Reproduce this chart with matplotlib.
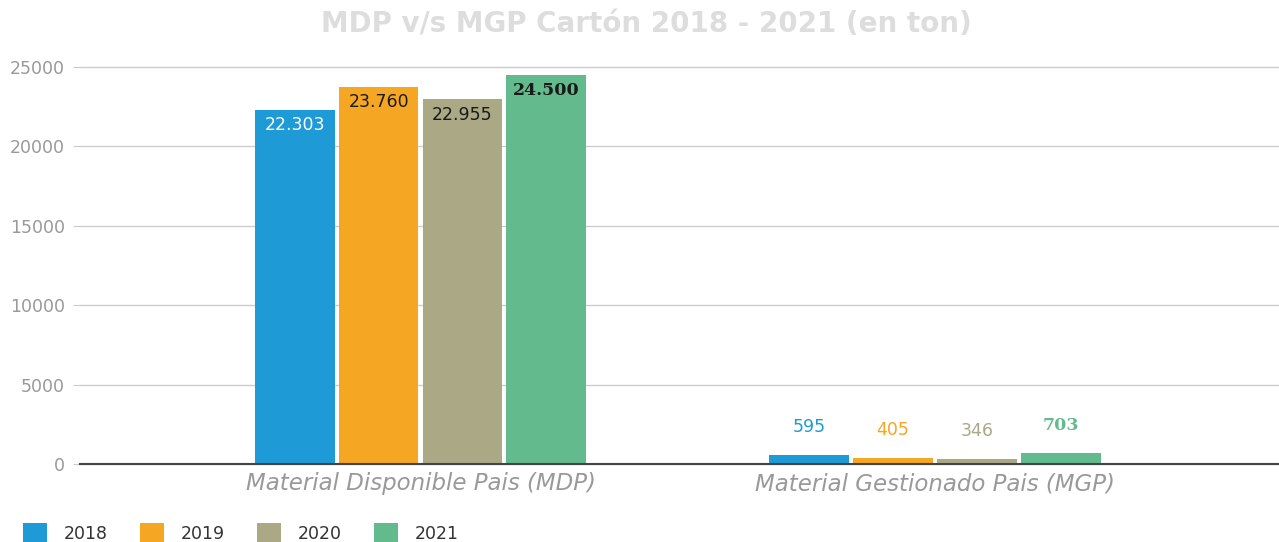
import matplotlib.pyplot as plt
import numpy as np

categorias = ['Material Disponible Pais (MDP)', 'Material Gestionado Pais (MGP)']
anios = ['2018', '2019', '2020', '2021']
valores = {
    '2018': [22303, 595],
    '2019': [23760, 405],
    '2020': [22955, 346],
    '2021': [24500, 703],
}
etiquetas = {
    '2018': ['22.303', '595'],
    '2019': ['23.760', '405'],
    '2020': ['22.955', '346'],
    '2021': ['24.500', '703'],
}
colores = ['#1E9AD6', '#F5A623', '#ABA886', '#63BA8C']
# color del texto dentro de la barra (grupo MDP)
color_dentro = ['white', '#1a1a1a', '#1a1a1a', '#1a1a1a']
familia = ['DejaVu Sans', 'DejaVu Sans', 'DejaVu Sans', 'DejaVu Serif']
peso = ['normal', 'normal', 'normal', 'bold']

fig = plt.figure(figsize=(12.79, 5.42), dpi=100)
ax = fig.add_axes([80 / 1279, 78 / 542, 1199 / 1279, 397 / 542])

x = np.arange(len(categorias))
ancho = 0.155
paso = 0.163

for i, anio in enumerate(anios):
    pos = x + (i - 1.5) * paso
    ax.bar(pos, valores[anio], width=ancho, color=colores[i], label=anio, zorder=3)
    # etiqueta dentro de la barra grande
    ax.annotate(etiquetas[anio][0], (pos[0], valores[anio][0]), xytext=(0, -11),
                textcoords='offset points', ha='center', va='center',
                fontsize=12.5, color=color_dentro[i], family=familia[i], fontweight=peso[i])
    # etiqueta encima de la barra pequeña
    ax.annotate(etiquetas[anio][1], (pos[1], valores[anio][1]), xytext=(0, 20),
                textcoords='offset points', ha='center', va='center',
                fontsize=12.5, color=colores[i], family=familia[i], fontweight=peso[i])

ax.set_xlim(-0.662, 1.669)
ax.set_ylim(0, 25000)
ax.set_yticks([0, 5000, 10000, 15000, 20000, 25000])
ax.set_xticks(x)
ax.set_xticklabels(categorias, fontsize=16.5, style='italic', color='#999999')
ax.tick_params(axis='x', length=0, pad=6)
ax.tick_params(axis='y', length=5, color='#cccccc', labelcolor='#999999', labelsize=12.5, pad=6)
ax.grid(axis='y', color='#cccccc', linewidth=1, zorder=0)
for s in ['top', 'right', 'left']:
    ax.spines[s].set_visible(False)
ax.spines['bottom'].set_color('#444444')
ax.spines['bottom'].set_linewidth(1.5)
ax.spines['bottom'].set_zorder(4)
for gl in ax.yaxis.get_gridlines():
    gl.set_clip_on(False)

fig.text(0.505, 0.955, 'MDP v/s MGP Cartón 2018 - 2021 (en ton)', ha='center', va='center',
         fontsize=20, fontweight='bold', color='#dddddd')

leg = fig.legend(loc='lower left', bbox_to_anchor=(0.006, -0.03), ncol=4, frameon=False,
                 fontsize=12.5, handlelength=1.35, handleheight=1.35, columnspacing=1.85,
                 handletextpad=1.0)
for t in leg.get_texts():
    t.set_color('#333333')

fig.savefig('out.png', dpi=100)
